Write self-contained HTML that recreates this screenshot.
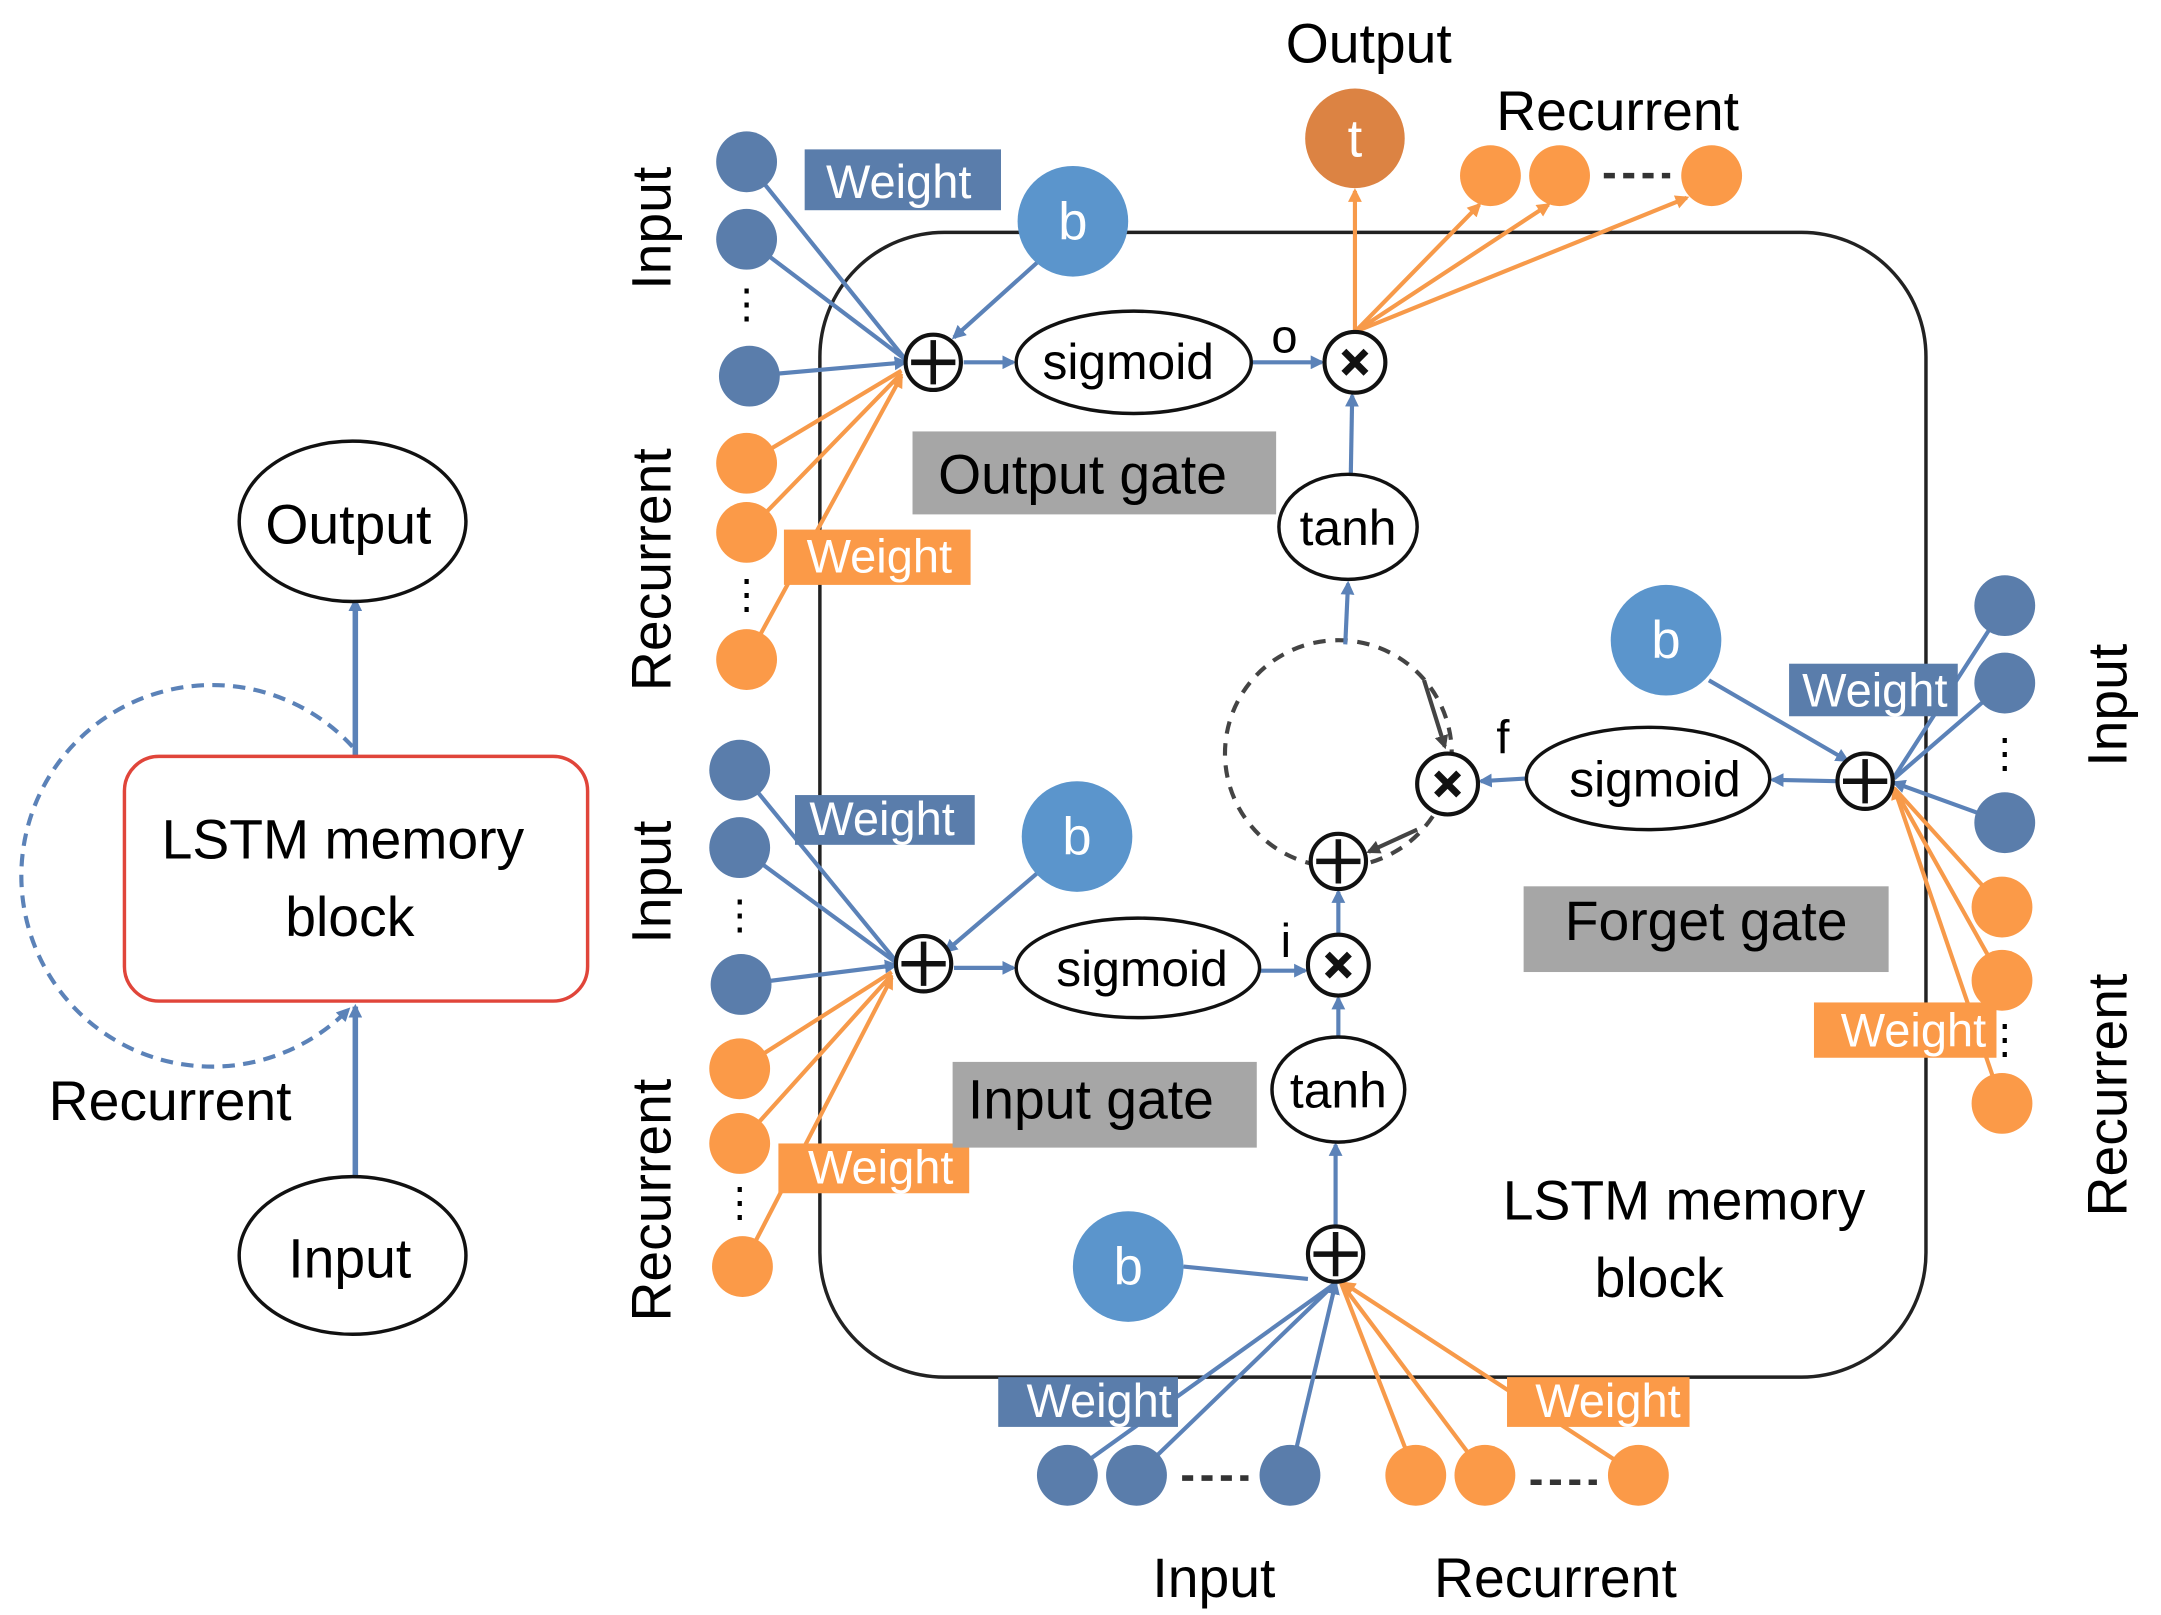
<!DOCTYPE html>
<html><head><meta charset="utf-8"><style>
html,body{margin:0;padding:0;background:#fff;}
svg{display:block;}
text{font-family:"Liberation Sans",Arial,sans-serif;}
</style></head><body>
<svg width="2161" height="1615" viewBox="0 0 1563 1168" xmlns="http://www.w3.org/2000/svg">
<defs>
<marker id="ab" markerWidth="10" markerHeight="10" refX="8" refY="5" orient="auto" markerUnits="userSpaceOnUse"><path d="M0,0 L10,5 L0,10 z" fill="#5b82b8"/></marker>
<marker id="ao" markerWidth="10" markerHeight="10" refX="8" refY="5" orient="auto" markerUnits="userSpaceOnUse"><path d="M0,0 L10,5 L0,10 z" fill="#f79a4a"/></marker>
<marker id="ad" markerWidth="10" markerHeight="10" refX="8" refY="5" orient="auto" markerUnits="userSpaceOnUse"><path d="M0,0 L10,5 L0,10 z" fill="#444"/></marker>
</defs>
<rect width="1563" height="1168" fill="#fff"/>

<!-- LEFT -->
<g stroke="#5b82b8" stroke-width="4" fill="none">
<line x1="257" y1="546" x2="257" y2="434" marker-end="url(#ab)"/>
<line x1="257" y1="852" x2="257" y2="728" marker-end="url(#ab)"/>
<path d="M255,540 A138,138 0 1,0 252,730" stroke-width="3" stroke-dasharray="9,6" marker-end="url(#ab)"/>
</g>
<ellipse cx="255" cy="377" rx="82" ry="58" fill="#fff" stroke="#111" stroke-width="2.5"/>
<text x="252" y="393" font-size="40" text-anchor="middle">Output</text>
<rect x="90" y="547" width="335" height="177" rx="25" fill="#fff" stroke="#e0453a" stroke-width="2.5"/>
<text x="248" y="621" font-size="40" text-anchor="middle">LSTM memory</text>
<text x="253" y="677" font-size="40" text-anchor="middle">block</text>
<ellipse cx="255" cy="908" rx="82" ry="57" fill="#fff" stroke="#111" stroke-width="2.5"/>
<text x="253" y="924" font-size="40" text-anchor="middle">Input</text>
<text x="123" y="810" font-size="40" text-anchor="middle">Recurrent</text>

<!-- main block -->
<rect x="593" y="168" width="800" height="828" rx="90" fill="none" stroke="#222" stroke-width="2.5"/>

<!-- OUTPUT GATE connections -->
<g stroke-width="3" fill="none">
<g stroke="#5b82b8">
<line x1="540" y1="117" x2="655" y2="260"/><line x1="540" y1="173" x2="655" y2="260"/><line x1="542" y1="272" x2="655" y2="262" marker-end="url(#ab)"/>
<line x1="750" y1="190" x2="690" y2="244" marker-end="url(#ab)"/>
<line x1="697" y1="262" x2="733" y2="262" marker-end="url(#ab)"/>
<line x1="906" y1="262" x2="956" y2="262" marker-end="url(#ab)"/>
<line x1="977" y1="343" x2="978" y2="286" marker-end="url(#ab)"/>
</g>
<g stroke="#f79a4a">
<line x1="540" y1="335" x2="652" y2="268"/><line x1="540" y1="385" x2="652" y2="270"/><line x1="540" y1="477" x2="652" y2="272" marker-end="url(#ao)"/>
<line x1="980" y1="240" x2="980" y2="138" marker-end="url(#ao)"/>
<line x1="980" y1="240" x2="1070" y2="148" marker-end="url(#ao)"/>
<line x1="980" y1="240" x2="1120" y2="148" marker-end="url(#ao)"/>
<line x1="980" y1="240" x2="1220" y2="143" marker-end="url(#ao)"/>
</g>
</g>
<g fill="#5a7dab"><circle cx="540" cy="117" r="22"/><circle cx="540" cy="173" r="22"/><circle cx="542" cy="272" r="22"/></g>
<g fill="#fb9a48"><circle cx="540" cy="335" r="22"/><circle cx="540" cy="385" r="22"/><circle cx="540" cy="477" r="22"/></g>
<text x="540" y="230" font-size="30" text-anchor="middle">⋮</text>
<text x="540" y="440" font-size="30" text-anchor="middle">⋮</text>
<rect x="582" y="108" width="142" height="44" fill="#5a7dab"/><text x="650" y="143" font-size="34" fill="#fff" text-anchor="middle">Weight</text>
<rect x="567" y="383" width="135" height="40" fill="#fb9a48"/><text x="636" y="414" font-size="34" fill="#fff" text-anchor="middle">Weight</text>
<circle cx="776" cy="160" r="40" fill="#5b95cc"/><text x="776" y="173" font-size="38" fill="#fff" text-anchor="middle">b</text>
<ellipse cx="820" cy="262" rx="85" ry="37" fill="#fff" stroke="#111" stroke-width="2.5"/><text x="816" y="274" font-size="36" text-anchor="middle">sigmoid</text>
<text x="929" y="255" font-size="34" text-anchor="middle">o</text>
<rect x="660" y="312" width="263" height="60" fill="#a6a6a6"/><text x="783" y="357" font-size="40" text-anchor="middle">Output gate</text>
<ellipse cx="975" cy="381" rx="50" ry="38" fill="#fff" stroke="#111" stroke-width="2.5"/><text x="975" y="394" font-size="36" text-anchor="middle">tanh</text>
<circle cx="980" cy="100" r="36" fill="#dc8343"/><text x="980" y="113" font-size="38" fill="#fff" text-anchor="middle">t</text>
<g fill="#fb9a48"><circle cx="1078" cy="127" r="22"/><circle cx="1128" cy="127" r="22"/><circle cx="1238" cy="127" r="22"/></g>
<line x1="1160" y1="127" x2="1208" y2="127" stroke="#333" stroke-width="4" stroke-dasharray="8,6"/>
<text x="990" y="45" font-size="40" text-anchor="middle">Output</text>
<text x="1170" y="94" font-size="40" text-anchor="middle">Recurrent</text>
<text transform="translate(485,165) rotate(-90)" font-size="40" text-anchor="middle">Input</text>
<text transform="translate(485,412) rotate(-90)" font-size="40" text-anchor="middle">Recurrent</text>

<!-- MIDDLE -->
<g stroke-width="3" fill="none">
<circle cx="968" cy="545" r="82" stroke="#444" stroke-dasharray="9,7"/>
<path d="M1030,492 L1045,540" stroke="#444" marker-end="url(#ad)"/>
<path d="M1025,600 L990,616" stroke="#444" marker-end="url(#ad)"/>
<g stroke="#5b82b8">
<line x1="973" y1="466" x2="975" y2="422" marker-end="url(#ab)"/>
<line x1="968" y1="676" x2="968" y2="645" marker-end="url(#ab)"/>
<line x1="968" y1="750" x2="968" y2="722" marker-end="url(#ab)"/>
<line x1="966" y1="887" x2="966" y2="828" marker-end="url(#ab)"/>
<line x1="1104" y1="563" x2="1071" y2="565" marker-end="url(#ab)"/>
<line x1="1329" y1="565" x2="1282" y2="564" marker-end="url(#ab)"/>
<line x1="1236" y1="492" x2="1336" y2="550" marker-end="url(#ab)"/>
<line x1="1450" y1="438" x2="1370" y2="562"/><line x1="1450" y1="494" x2="1370" y2="563"/><line x1="1450" y1="595" x2="1370" y2="566" marker-end="url(#ab)"/>
</g>
<g stroke="#f79a4a">
<line x1="1448" y1="656" x2="1370" y2="570"/><line x1="1448" y1="709" x2="1370" y2="570"/><line x1="1448" y1="798" x2="1370" y2="570" marker-end="url(#ao)"/>
</g>
</g>
<circle cx="968" cy="623" r="20" fill="#fff" stroke="#111" stroke-width="3"/><path d="M952,623 H984 M968,607 V639" stroke="#111" stroke-width="4"/>
<ellipse cx="968" cy="788" rx="48" ry="38" fill="#fff" stroke="#111" stroke-width="2.5"/><text x="968" y="801" font-size="36" text-anchor="middle">tanh</text>
<text x="1087" y="545" font-size="34" text-anchor="middle">f</text>
<text x="930" y="692" font-size="34" text-anchor="middle">i</text>
<ellipse cx="1192" cy="563" rx="88" ry="37" fill="#fff" stroke="#111" stroke-width="2.5"/><text x="1197" y="576" font-size="36" text-anchor="middle">sigmoid</text>
<circle cx="1205" cy="463" r="40" fill="#5b95cc"/><text x="1205" y="476" font-size="38" fill="#fff" text-anchor="middle">b</text>
<g fill="#5a7dab"><circle cx="1450" cy="438" r="22"/><circle cx="1450" cy="494" r="22"/><circle cx="1450" cy="595" r="22"/></g>
<g fill="#fb9a48"><circle cx="1448" cy="656" r="22"/><circle cx="1448" cy="709" r="22"/><circle cx="1448" cy="798" r="22"/></g>
<text x="1450" y="555" font-size="30" text-anchor="middle">⋮</text>
<text x="1450" y="762" font-size="30" text-anchor="middle">⋮</text>
<rect x="1294" y="480" width="122" height="38" fill="#5a7dab"/><text x="1356" y="511" font-size="34" fill="#fff" text-anchor="middle">Weight</text>
<rect x="1312" y="725" width="132" height="40" fill="#fb9a48"/><text x="1384" y="757" font-size="34" fill="#fff" text-anchor="middle">Weight</text>
<rect x="1102" y="641" width="264" height="62" fill="#a6a6a6"/><text x="1234" y="680" font-size="40" text-anchor="middle">Forget gate</text>
<text transform="translate(1538,510) rotate(-90)" font-size="40" text-anchor="middle">Input</text>
<text transform="translate(1538,792) rotate(-90)" font-size="40" text-anchor="middle">Recurrent</text>

<!-- INPUT GATE -->
<g stroke-width="3" fill="none">
<g stroke="#5b82b8">
<line x1="535" y1="557" x2="648" y2="695"/><line x1="535" y1="613" x2="648" y2="696"/><line x1="536" y1="712" x2="648" y2="698" marker-end="url(#ab)"/>
<line x1="752" y1="630" x2="684" y2="688" marker-end="url(#ab)"/>
<line x1="690" y1="700" x2="733" y2="700" marker-end="url(#ab)"/>
<line x1="909" y1="702" x2="944" y2="702" marker-end="url(#ab)"/>
<line x1="856" y1="916" x2="946" y2="925"/>
<line x1="772" y1="1067" x2="966" y2="928"/><line x1="822" y1="1067" x2="966" y2="928"/><line x1="933" y1="1067" x2="966" y2="928" marker-end="url(#ab)"/>
</g>
<g stroke="#f79a4a">
<line x1="535" y1="773" x2="645" y2="703"/><line x1="535" y1="827" x2="645" y2="705"/><line x1="537" y1="916" x2="645" y2="707" marker-end="url(#ao)"/>
<line x1="1024" y1="1067" x2="970" y2="928"/><line x1="1074" y1="1067" x2="970" y2="928"/><line x1="1185" y1="1067" x2="972" y2="928" marker-end="url(#ao)"/>
</g>
</g>
<g fill="#5a7dab"><circle cx="535" cy="557" r="22"/><circle cx="535" cy="613" r="22"/><circle cx="536" cy="712" r="22"/></g>
<g fill="#fb9a48"><circle cx="535" cy="773" r="22"/><circle cx="535" cy="827" r="22"/><circle cx="537" cy="916" r="22"/></g>
<text x="535" y="672" font-size="30" text-anchor="middle">⋮</text>
<text x="535" y="880" font-size="30" text-anchor="middle">⋮</text>
<rect x="575" y="575" width="130" height="36" fill="#5a7dab"/><text x="638" y="604" font-size="34" fill="#fff" text-anchor="middle">Weight</text>
<rect x="563" y="827" width="138" height="36" fill="#fb9a48"/><text x="637" y="856" font-size="34" fill="#fff" text-anchor="middle">Weight</text>
<circle cx="779" cy="605" r="40" fill="#5b95cc"/><text x="779" y="618" font-size="38" fill="#fff" text-anchor="middle">b</text>
<ellipse cx="823" cy="700" rx="88" ry="36" fill="#fff" stroke="#111" stroke-width="2.5"/><text x="826" y="713" font-size="36" text-anchor="middle">sigmoid</text>
<rect x="689" y="768" width="220" height="62" fill="#a6a6a6"/><text x="789" y="809" font-size="40" text-anchor="middle">Input gate</text>
<text transform="translate(485,638) rotate(-90)" font-size="40" text-anchor="middle">Input</text>
<text transform="translate(485,868) rotate(-90)" font-size="40" text-anchor="middle">Recurrent</text>

<!-- BOTTOM -->
<circle cx="816" cy="916" r="40" fill="#5b95cc"/><text x="816" y="929" font-size="38" fill="#fff" text-anchor="middle">b</text>
<g fill="#5a7dab"><circle cx="772" cy="1067" r="22"/><circle cx="822" cy="1067" r="22"/><circle cx="933" cy="1067" r="22"/></g>
<g fill="#fb9a48"><circle cx="1024" cy="1067" r="22"/><circle cx="1074" cy="1067" r="22"/><circle cx="1185" cy="1067" r="22"/></g>
<line x1="855" y1="1069" x2="903" y2="1069" stroke="#333" stroke-width="4" stroke-dasharray="8,6"/>
<line x1="1107" y1="1072" x2="1155" y2="1072" stroke="#333" stroke-width="4" stroke-dasharray="8,6"/>
<rect x="722" y="996" width="130" height="36" fill="#5a7dab"/><text x="795" y="1025" font-size="34" fill="#fff" text-anchor="middle">Weight</text>
<rect x="1090" y="996" width="132" height="36" fill="#fb9a48"/><text x="1163" y="1025" font-size="34" fill="#fff" text-anchor="middle">Weight</text>
<text x="1218" y="882" font-size="40" text-anchor="middle">LSTM memory</text>
<text x="1200" y="938" font-size="40" text-anchor="middle">block</text>
<text x="878" y="1155" font-size="40" text-anchor="middle">Input</text>
<text x="1125" y="1155" font-size="40" text-anchor="middle">Recurrent</text>

<!-- plus / times nodes -->
<g fill="#fff" stroke="#111" stroke-width="3">
<circle cx="675" cy="262" r="20"/><circle cx="668" cy="697" r="20"/><circle cx="1349" cy="565" r="20"/><circle cx="966" cy="907" r="20"/>
<circle cx="980" cy="262" r="22"/><circle cx="1047" cy="567" r="22"/><circle cx="968" cy="698" r="22"/>
</g>
<g stroke="#111" stroke-width="4">
<path d="M659,262 H691 M675,246 V278"/><path d="M652,697 H684 M668,681 V713"/><path d="M1333,565 H1365 M1349,549 V581"/><path d="M950,907 H982 M966,891 V923"/>
<path d="M972,254 L988,270 M988,254 L972,270" stroke-width="5"/>
<path d="M1039,559 L1055,575 M1055,559 L1039,575" stroke-width="5"/>
<path d="M960,690 L976,706 M976,690 L960,706" stroke-width="5"/>
</g>
</svg>
</body></html>
